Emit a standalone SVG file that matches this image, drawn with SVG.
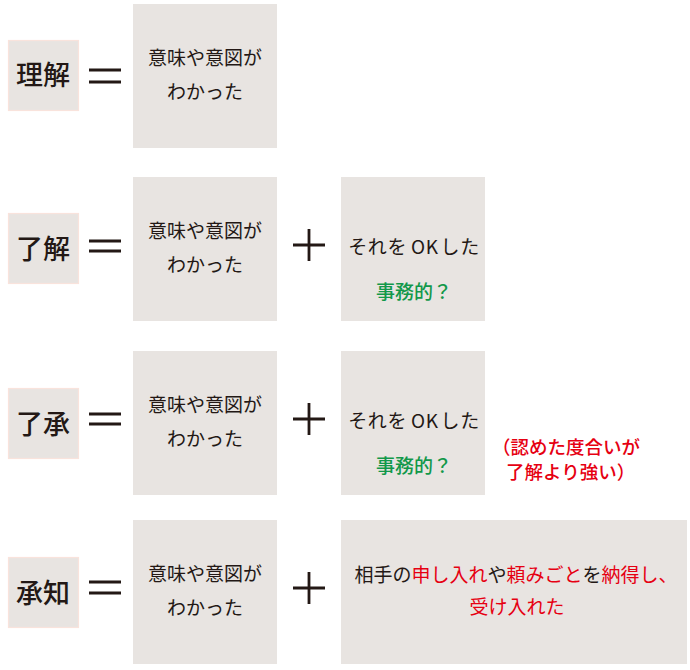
<svg xmlns="http://www.w3.org/2000/svg" width="690" height="670" viewBox="0 0 690 670">
<style>
.box{fill:#e8e4e1}
.lbl{fill:#e8e4e1;stroke:#f9e3dc;stroke-width:1.2}
.t{font-family:"Noto Sans CJK JP","Noto Sans",sans-serif;font-size:19px;fill:#231815;text-anchor:middle}
.lt{font-family:"Noto Sans CJK JP","Noto Sans",sans-serif;font-size:27px;font-weight:500;fill:#231815;text-anchor:middle}
.g{fill:#12984a;font-weight:500}
.r{fill:#e60012}
.rb{font-family:"Noto Sans CJK JP","Noto Sans",sans-serif;font-size:18.5px;font-weight:500;fill:#e60012}
.op{stroke:#231815;stroke-width:2.8;fill:none}
</style>
<rect width="690" height="670" fill="#fff"/>
<g id="row1">
  <g id="label-rikai"><rect class="lbl" x="8.5" y="40.5" width="70" height="70"/><text class="lt" x="43" y="85">理解</text></g>
  <g id="op1"><path class="op" d="M89 70H121M89 82H121"/></g>
  <g id="box1"><rect class="box" x="133" y="4" width="144" height="144"/><text class="t" x="205" y="65">意味や意図が</text><text class="t" x="205" y="99">わかった</text></g>
</g>
<g id="row2">
  <g id="label-ryokai"><rect class="lbl" x="8.5" y="213.5" width="70" height="70"/><text class="lt" x="43" y="259">了解</text></g>
  <g id="op2"><path class="op" d="M89 241H121M89 251H121"/></g>
  <g id="box2"><rect class="box" x="133" y="177" width="144" height="144"/><text class="t" x="205" y="238">意味や意図が</text><text class="t" x="205" y="272">わかった</text></g>
  <g id="plus2"><path class="op" d="M293 245H325M309 229V261"/></g>
  <g id="ok2"><rect class="box" x="341" y="177" width="144" height="144"/><text class="t" x="414" y="254" letter-spacing="0.6">それを<tspan dx="4">OK</tspan><tspan dx="2">した</tspan></text><text class="t g" x="414" y="299">事務的？</text></g>
</g>
<g id="row3">
  <g id="label-ryosho"><rect class="lbl" x="8.5" y="388.5" width="70" height="70"/><text class="lt" x="43" y="434">了承</text></g>
  <g id="op3"><path class="op" d="M89 414H121M89 424H121"/></g>
  <g id="box3"><rect class="box" x="133" y="351" width="144" height="144"/><text class="t" x="205" y="412">意味や意図が</text><text class="t" x="205" y="446">わかった</text></g>
  <g id="plus3"><path class="op" d="M293 419H325M309 403V435"/></g>
  <g id="ok3"><rect class="box" x="341" y="351" width="144" height="144"/><text class="t" x="414" y="428" letter-spacing="0.6">それを<tspan dx="4">OK</tspan><tspan dx="2">した</tspan></text><text class="t g" x="414" y="473">事務的？</text></g>
  <g id="note3"><text class="rb" x="492" y="454">（認めた度合いが</text><text class="rb" x="506" y="479">了解より強い）</text></g>
</g>
<g id="row4">
  <g id="label-shochi"><rect class="lbl" x="8.5" y="557.5" width="70" height="70"/><text class="lt" x="43" y="603">承知</text></g>
  <g id="op4"><path class="op" d="M89 582H121M89 593H121"/></g>
  <g id="box4"><rect class="box" x="133" y="520" width="144" height="144"/><text class="t" x="205" y="581">意味や意図が</text><text class="t" x="205" y="615">わかった</text></g>
  <g id="plus4"><path class="op" d="M293 588H325M309 572V604"/></g>
  <g id="wide4"><rect class="box" x="341" y="520" width="346" height="144"/><text class="t" x="516" y="582">相手の<tspan class="r">申し入れ</tspan>や<tspan class="r">頼みごと</tspan>を<tspan class="r">納得し、</tspan></text><text class="t r" x="517" y="614">受け入れた</text></g>
</g>
<g id="connectors"></g>
</svg>
